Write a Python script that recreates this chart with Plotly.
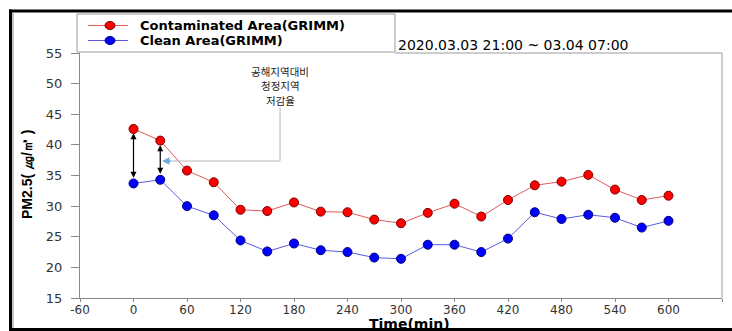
import plotly.graph_objects as go

# ---- data ----
time_min = [0, 30, 60, 90, 120, 150, 180, 210, 240, 270, 300, 330, 360, 390, 420, 450, 480, 510, 540, 570, 600]
contaminated = [42.6, 40.7, 35.8, 33.9, 29.4, 29.2, 30.6, 29.1, 29.0, 27.8, 27.2, 28.9, 30.4, 28.3, 31.0, 33.4, 34.0, 35.1, 32.7, 31.0, 31.7]
clean = [33.7, 34.3, 30.0, 28.5, 24.4, 22.6, 23.9, 22.8, 22.5, 21.6, 21.4, 23.7, 23.7, 22.5, 24.7, 29.0, 27.9, 28.6, 28.1, 26.5, 27.6]
series_names = ["Contaminated Area(GRIMM)", "Clean Area(GRIMM)"]
x_ticks = list(range(-60, 661, 60))
y_ticks = list(range(15, 56, 5))
date_label = "2020.03.03 21:00 ~ 03.04 07:00"
note_lines = ["공해지역대비", "청정지역", "저감율"]
y_title = "PM2.5( ㎍/㎥ )"
x_title = "Time(min)"

W, H = 732, 331
L, R, T, B = 80, 722, 53, 298


def px(x):
    return (x - L) / (R - L)


def py(y):
    return (B - y) / (B - T)


fig = go.Figure()
fig.add_trace(go.Scatter(
    x=time_min, y=contaminated, name=series_names[0], mode="lines+markers",
    line=dict(color="#e05a5a", width=1),
    marker=dict(symbol="circle", size=9, color="#ff0000", line=dict(color="#7a0000", width=1)),
    showlegend=False))
fig.add_trace(go.Scatter(
    x=time_min, y=clean, name=series_names[1], mode="lines+markers",
    line=dict(color="#5a5ae0", width=1),
    marker=dict(symbol="circle", size=9, color="#0000ff", line=dict(color="#00007a", width=1)),
    showlegend=False))

shapes = []
annotations = []

# plot frame (top and right, lighter)
shapes.append(dict(type="line", xref="paper", yref="paper", x0=px(395), x1=1, y0=1, y1=1,
                   line=dict(color="#9a9a9a", width=1)))
shapes.append(dict(type="line", xref="paper", yref="paper", x0=1, x1=1, y0=0, y1=1,
                   line=dict(color="#9a9a9a", width=1)))

# outer border
shapes.append(dict(type="line", xref="paper", yref="paper", x0=px(9), x1=px(732), y0=py(11), y1=py(11),
                   line=dict(color="black", width=3)))
shapes.append(dict(type="line", xref="paper", yref="paper", x0=px(10.5), x1=px(10.5), y0=py(9.5), y1=py(331),
                   line=dict(color="black", width=3)))
shapes.append(dict(type="line", xref="paper", yref="paper", x0=px(13), x1=px(13), y0=py(13), y1=py(328),
                   line=dict(color="#909090", width=1)))
shapes.append(dict(type="line", xref="paper", yref="paper", x0=px(9), x1=px(732), y0=py(329.5), y1=py(329.5),
                   line=dict(color="black", width=3)))

# manual legend box
shapes.append(dict(type="rect", xref="paper", yref="paper", x0=px(77), x1=px(395), y0=py(52), y1=py(14),
                   line=dict(color="#9a9a9a", width=1), fillcolor="white"))
leg_rows = [(25.5, "#e05a5a", "#ff0000", "#7a0000"), (40.5, "#5a5ae0", "#0000ff", "#00007a")]
for (yy, lc, mc, oc), name in zip(leg_rows, series_names):
    shapes.append(dict(type="line", xref="paper", yref="paper", x0=px(88), x1=px(128), y0=py(yy), y1=py(yy),
                       line=dict(color=lc, width=1)))
    shapes.append(dict(type="circle", xref="paper", yref="paper", xsizemode="pixel", ysizemode="pixel",
                       xanchor=px(110), yanchor=py(yy), x0=-5, x1=5, y0=-4, y1=4,
                       fillcolor=mc, line=dict(color=oc, width=1)))
    annotations.append(dict(xref="paper", yref="paper", x=px(139), y=py(yy), xanchor="left", yanchor="middle",
                            text=name, showarrow=False, borderpad=0,
                            font=dict(family="DejaVu Sans", size=13, color="black", weight="bold")))

# date label
annotations.append(dict(xref="paper", yref="paper", x=px(397), y=py(45), xanchor="left", yanchor="middle",
                        text=date_label, showarrow=False, borderpad=0,
                        font=dict(family="DejaVu Sans", size=14, color="black")))

# Korean note
for i, t in enumerate(note_lines):
    annotations.append(dict(xref="paper", yref="paper", x=px(280), y=py(71 + 14.5 * i), xanchor="center",
                            yanchor="middle", text=t, showarrow=False, borderpad=0,
                            font=dict(family="Noto Sans CJK KR", size=10.5, color="#222")))

# callout line
shapes.append(dict(type="path", xref="paper", yref="paper",
                   path=f"M {px(280)} {py(107)} L {px(280)} {py(161)} L {px(170)} {py(161)}",
                   line=dict(color="#b8b8b8", width=1)))
annotations.append(dict(xref="paper", yref="paper", x=px(162), y=py(161), ax=10, ay=0,
                        axref="pixel", ayref="pixel", text="", showarrow=True,
                        arrowhead=2, arrowsize=1, arrowwidth=1.5, arrowcolor="#6fa8dc"))

# double-headed difference arrows
off = [0.7, 0.75]
for i in range(2):
    annotations.append(dict(x=time_min[i], y=contaminated[i] - off[i], ax=time_min[i], ay=clean[i] + off[i],
                            xref="x", yref="y", axref="x", ayref="y", text="", showarrow=True,
                            arrowhead=2, startarrowhead=2, arrowside="end+start", arrowsize=1,
                            arrowwidth=1.2, arrowcolor="black"))

# axis titles
annotations.append(dict(xref="paper", yref="paper", x=px(27), y=py(175), xanchor="center", yanchor="middle",
                        text=y_title, textangle=-90, showarrow=False, borderpad=0,
                        font=dict(family="Liberation Sans", size=14, color="black", weight="bold")))
annotations.append(dict(xref="paper", yref="paper", x=px(409), y=py(323.5), xanchor="center", yanchor="middle",
                        text=x_title, showarrow=False, borderpad=0,
                        font=dict(family="DejaVu Sans", size=14, color="black", weight="bold")))

fig.update_layout(
    width=W, height=H,
    margin=dict(l=L, r=W - R, t=T, b=H - B, pad=0),
    paper_bgcolor="white", plot_bgcolor="white",
    shapes=shapes, annotations=annotations,
    showlegend=False,
)
fig.update_xaxes(range=[-60, 660], tickmode="array", tickvals=x_ticks, ticktext=[str(v) for v in x_ticks],
                 showgrid=False, zeroline=False, showline=True, linecolor="#8a8a8a", linewidth=1,
                 ticks="outside", ticklen=3, tickcolor="#8a8a8a", ticklabelstandoff=-2,
                 tickfont=dict(family="DejaVu Sans", size=12, color="#333"))
fig.update_yaxes(range=[15, 55], tickmode="array", tickvals=y_ticks, ticktext=[str(v) for v in y_ticks],
                 showgrid=False, zeroline=False, showline=True, linecolor="#8a8a8a", linewidth=1,
                 ticks="outside", ticklen=8, tickcolor="#8a8a8a", ticklabelstandoff=6,
                 tickfont=dict(family="DejaVu Sans", size=13, color="#333"))

fig.write_html("out.html")
